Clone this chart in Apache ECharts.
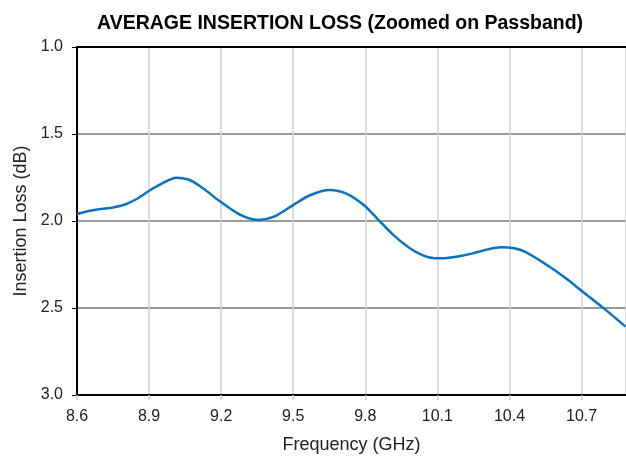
<!DOCTYPE html>
<html>
<head>
<meta charset="utf-8">
<script src="https://cdn.jsdelivr.net/npm/echarts@6/dist/echarts.min.js"></script>
<style>
  html, body { margin: 0; padding: 0; background: #fff; }
  #chart { width: 626px; height: 457px; }
</style>
</head>
<body>
<div id="chart"></div>
<script>
// frequency (GHz) and average insertion loss (dB)
const freq = [8.6, 8.64, 8.69, 8.75, 8.8, 8.85, 8.902, 8.96, 9.013, 9.06, 9.11, 9.193, 9.276, 9.353, 9.42, 9.498, 9.57, 9.651, 9.721, 9.797, 9.852, 9.915, 9.984, 10.04, 10.088, 10.14, 10.192, 10.248, 10.31, 10.366, 10.42, 10.47, 10.567, 10.64, 10.701, 10.789, 10.883]
const loss = [1.96, 1.945, 1.932, 1.922, 1.905, 1.872, 1.825, 1.78, 1.751, 1.76, 1.797, 1.885, 1.962, 1.994, 1.975, 1.91, 1.852, 1.822, 1.843, 1.912, 1.99, 2.078, 2.155, 2.198, 2.214, 2.212, 2.202, 2.186, 2.163, 2.151, 2.157, 2.18, 2.263, 2.335, 2.402, 2.498, 2.607]
const xTicks = [8.6, 8.9, 9.2, 9.5, 9.8, 10.1, 10.4, 10.7]
const yTicks = [1.0, 1.5, 2.0, 2.5, 3.0]

const chart = echarts.init(document.getElementById('chart'))
const font = 'Liberation Sans, Arial, sans-serif'
const xMax = 10.885

chart.setOption({
  animation: false,
  title: {
    text: 'AVERAGE INSERTION LOSS (Zoomed on Passband)',
    left: 92,
    top: 9,
    textStyle: { fontFamily: font, fontSize: 19.5, fontWeight: 'bold', color: '#000' }
  },
  grid: { left: 77, right: 0, top: 47, bottom: 62, outerBoundsMode: 'none' },
  xAxis: [
    {
      type: 'value',
      min: xTicks[0],
      max: xMax,
      interval: 0.3,
      name: 'Frequency (GHz)',
      nameLocation: 'middle',
      nameGap: 41,
      nameTextStyle: { fontFamily: font, fontSize: 18, color: '#222' },
      axisLine: { lineStyle: { color: '#000', width: 2 } },
      axisTick: { show: true, length: 5, lineStyle: { color: '#c8c8c8', width: 1.5 } },
      axisLabel: {
        fontFamily: font, fontSize: 16, color: '#222', margin: 14,
        showMaxLabel: false,
        formatter: v => v.toFixed(1)
      },
      splitLine: { show: true, lineStyle: { color: '#d0d0d0', width: 1.5 } }
    },
    {
      type: 'value',
      position: 'top',
      min: xTicks[0],
      max: xMax,
      axisLine: { show: true, lineStyle: { color: '#000', width: 2 } },
      axisTick: { show: false },
      axisLabel: { show: false },
      splitLine: { show: false }
    }
  ],
  yAxis: {
    type: 'value',
    inverse: true,
    min: yTicks[0],
    max: yTicks[yTicks.length - 1],
    interval: 0.5,
    name: 'Insertion Loss (dB)',
    nameLocation: 'middle',
    nameGap: 38,
    nameTextStyle: { fontFamily: font, fontSize: 18, color: '#222' },
    axisLine: { show: true, lineStyle: { color: '#000', width: 2 } },
    axisTick: { show: true, length: 5, lineStyle: { color: '#000', width: 1 } },
    axisLabel: { fontFamily: font, fontSize: 16, color: '#222', margin: 14, formatter: v => v.toFixed(1) },
    splitLine: { show: true, lineStyle: { color: '#999', width: 2 } }
  },
  series: [{
    type: 'line',
    data: freq.map((f, i) => [f, loss[i]]),
    smooth: 0.3,
    showSymbol: false,
    lineStyle: { color: '#0a72c2', width: 2.5 }
  }]
})
</script>
</body>
</html>
